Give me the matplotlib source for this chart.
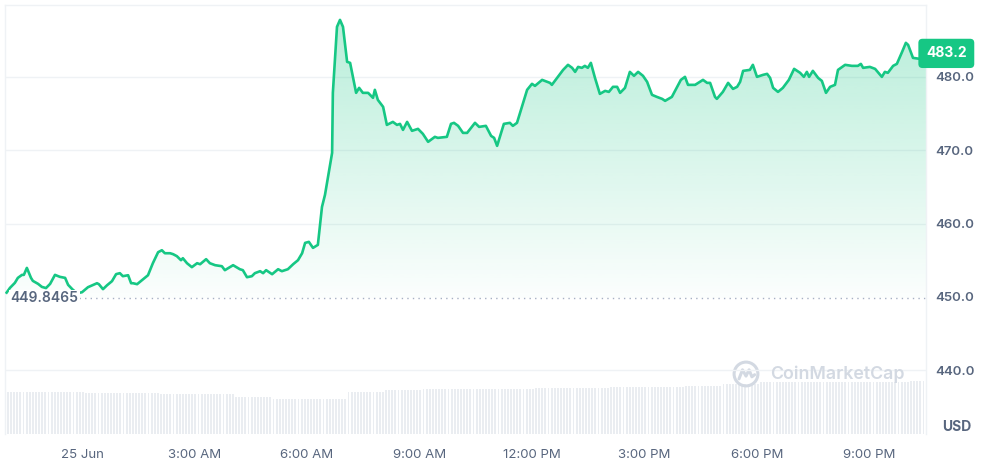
import numpy as np
import matplotlib.pyplot as plt
from matplotlib.patches import Polygon, Circle

plt.rcParams['font.family'] = ['Inter', 'DejaVu Sans']

# hours relative to 00:00 25 Jun
hours = [-2.01, -1.92, -1.79, -1.71, -1.60, -1.55, -1.47, -1.36, -1.31, -1.17, -1.07, -0.96,
         -0.85, -0.72, -0.59, -0.45, -0.37, -0.25, -0.13, 0.00, 0.16, 0.40, 0.45, 0.56, 0.67,
         0.80, 0.91, 1.01, 1.09, 1.23, 1.31, 1.36, 1.47, 1.60, 1.76, 1.89, 2.03, 2.13, 2.21,
         2.35, 2.43, 2.53, 2.64, 2.69, 2.80, 2.93, 3.07, 3.15, 3.31, 3.41, 3.55, 3.73, 3.81,
         4.03, 4.21, 4.29, 4.40, 4.53, 4.61, 4.75, 4.83, 4.91, 5.07, 5.23, 5.33, 5.49, 5.63,
         5.76, 5.87, 5.95, 6.05, 6.16, 6.29, 6.40, 6.48, 6.56, 6.67, 6.69, 6.80, 6.88, 6.96,
         7.07, 7.15, 7.31, 7.39, 7.49, 7.63, 7.76, 7.81, 7.89, 8.03, 8.13, 8.29, 8.40, 8.48,
         8.56, 8.67, 8.80, 8.96, 9.09, 9.23, 9.41, 9.49, 9.73, 9.84, 9.92, 10.03, 10.16, 10.27,
         10.48, 10.59, 10.77, 10.91, 10.99, 11.07, 11.25, 11.41, 11.49, 11.60, 11.73, 11.87,
         12.00, 12.08, 12.27, 12.48, 12.53, 12.69, 12.83, 12.96, 13.07, 13.15, 13.23, 13.33,
         13.41, 13.49, 13.57, 13.68, 13.81, 13.95, 14.05, 14.16, 14.27, 14.35, 14.48, 14.61,
         14.72, 14.83, 14.96, 15.07, 15.20, 15.33, 15.47, 15.55, 15.73, 15.87, 15.97, 16.08,
         16.16, 16.35, 16.48, 16.56, 16.67, 16.75, 16.88, 16.93, 17.09, 17.23, 17.36, 17.47,
         17.55, 17.63, 17.81, 17.89, 18.00, 18.16, 18.27, 18.35, 18.43, 18.56, 18.69, 18.85,
         18.99, 19.15, 19.25, 19.33, 19.39, 19.49, 19.63, 19.73, 19.84, 19.95, 20.08, 20.16,
         20.35, 20.53, 20.69, 20.77, 20.83, 21.01, 21.15, 21.33, 21.41, 21.49, 21.63, 21.73,
         21.87, 21.97, 22.03, 22.16, 22.35, 22.48, 22.51]
prices = [450.58, 451.23, 451.91, 452.59, 453.00, 453.00, 453.95, 452.59, 452.18, 451.77, 451.36, 451.20,
          451.77, 453.00, 452.73, 452.59, 451.64, 451.00, 450.50, 450.63, 451.32, 451.86, 451.73, 451.05, 451.59,
          452.14, 453.10, 453.23, 452.82, 452.95, 451.86, 451.86, 451.73, 452.27, 452.95, 454.59, 456.09, 456.36, 455.95,
          455.95, 455.82, 455.55, 455.00, 455.27, 454.59, 454.05, 454.59, 454.45, 455.14, 454.59, 454.32, 454.18, 453.64,
          454.32, 453.77, 453.64, 452.68, 452.82, 453.23, 453.50, 453.23, 453.64, 453.09, 453.77, 453.50, 453.77, 454.45,
          455.00, 455.95, 457.36, 457.50, 456.68, 457.09, 462.27, 463.91, 466.36, 469.64, 477.82, 486.82, 487.77, 486.82,
          482.05, 481.91, 477.82, 478.50, 477.82, 477.82, 477.14, 478.23, 476.86, 475.91, 473.45, 473.86, 473.45, 473.59,
          472.77, 473.86, 472.64, 472.91, 472.23, 471.14, 471.82, 471.68, 471.82, 473.59, 473.73, 473.32, 472.36, 472.36,
          473.73, 473.18, 473.32, 471.95, 471.68, 470.59, 473.59, 473.73, 473.32, 473.73, 475.91, 478.23,
          479.05, 478.77, 479.59, 479.18, 478.91, 480.00, 480.95, 481.64, 481.23, 480.68, 481.36, 481.23,
          481.50, 481.23, 481.91, 479.86, 477.68, 478.09, 477.95, 478.64, 478.64, 477.82, 478.50, 480.68,
          480.14, 480.68, 480.14, 479.32, 477.55, 477.27, 477.00, 476.73, 477.27, 478.64, 479.59, 480.00,
          478.91, 478.91, 479.32, 479.59, 479.18, 479.18, 477.27, 477.00, 477.95, 479.18, 478.36, 478.64,
          479.32, 480.82, 480.95, 481.64, 480.00, 480.27, 480.41, 479.86, 478.50, 477.95, 478.50, 479.59,
          481.09, 480.55, 480.00, 480.68, 480.00, 480.82, 479.86, 479.45, 477.82, 478.64, 478.91, 480.95,
          481.64, 481.50, 481.50, 481.77, 481.23, 481.36, 481.09, 480.00, 480.68, 480.55, 481.50, 481.77,
          483.41, 484.64, 484.36, 482.59, 482.45, 483.00, 483.20]

open_price = 449.8465
last_price = 483.2

# relative volume, one value per hour from -2h to 22h
vol_hourly = [4.2, 4.2, 4.1, 4.1, 4.0, 4.0, 3.7, 3.5, 3.5, 4.2, 4.4, 4.5, 4.5, 4.5,
              4.6, 4.6, 4.7, 4.7, 4.8, 5.0, 5.2, 5.2, 5.2, 5.2, 5.3]

tick_hours = [0, 3, 6, 9, 12, 15, 18, 21]
tick_labels = ["25 Jun", "3:00 AM", "6:00 AM", "9:00 AM", "12:00 PM", "3:00 PM", "6:00 PM", "9:00 PM"]
price_ticks = [440, 450, 460, 470, 480]

green = '#16c784'
grey_text = '#58667e'
grid_c = '#eff2f5'

W, H = 982, 462
fig = plt.figure(figsize=(W / 100, H / 100), dpi=100)
ax = fig.add_axes([5 / W, 1 - 434 / H, 921 / W, 429 / H])

x0, x1 = -2.053, 22.507
y0, y1 = 431.3, 489.8
ax.set_xlim(x0, x1)
ax.set_ylim(y0, y1)

# volume bars on a twin axis
axv = ax.twinx()
t_vol = np.arange(-2.0, 22.5, 1 / 12)
v_idx = np.floor(t_vol + 2.0).astype(int)
v_vals = np.array(vol_hourly)[v_idx]
axv.bar(t_vol, v_vals, width=0.05, color='#eaedf1', align='edge', zorder=1)
axv.set_ylim(0, 42.9)
axv.set_xlim(x0, x1)
axv.axis('off')
ax.set_zorder(axv.get_zorder() + 1)
ax.patch.set_visible(False)

# grid
for v in [440, 460, 470, 480]:
    ax.axhline(v, color=grid_c, lw=1, zorder=0)
ax.axhline(open_price, xmin=0.08, color='#a6b0c3', lw=1, ls=(0, (1, 3)), zorder=1)

# gradient fill under the line
t = np.array(hours)
p = np.array(prices)
poly = Polygon(np.column_stack([np.r_[t, t[-1], t[0]], np.r_[p, open_price, open_price]]),
               closed=True, facecolor='none', edgecolor='none')
ax.add_patch(poly)
n = 256
alpha = np.linspace(0.31, 0.015, n)[:, None]
rgba = np.zeros((n, 1, 4))
rgba[..., 0] = 22 / 255
rgba[..., 1] = 199 / 255
rgba[..., 2] = 132 / 255
rgba[..., 3] = alpha
img = ax.imshow(rgba, extent=[x0, x1, open_price, 488.5], aspect='auto', origin='upper',
                zorder=2, interpolation='bilinear')
img.set_clip_path(poly)

ax.plot(t, p, color=green, lw=1.9, zorder=3, solid_joinstyle='round')

# axes styling
for s in ['top', 'left', 'right']:
    ax.spines[s].set_color(grid_c)
    ax.spines[s].set_linewidth(1)
ax.spines['bottom'].set_visible(False)

ax.yaxis.tick_right()
ax.set_yticks(price_ticks)
ax.set_yticklabels([f"{v:.1f}" for v in price_ticks])
ax.tick_params(axis='y', length=0, pad=7, labelsize=9.5, labelcolor=grey_text)
for lbl in ax.get_yticklabels():
    lbl.set_fontweight('semibold')
ax.set_xticks(tick_hours)
ax.set_xticklabels(tick_labels)
ax.tick_params(axis='x', length=0, pad=11, labelsize=9.5, labelcolor=grey_text)

# price labels
ax.text(1.0, last_price, f"{last_price:.1f}", transform=ax.get_yaxis_transform(),
        ha='left', va='center', color='white', fontsize=10, fontweight='bold', zorder=10,
        bbox=dict(boxstyle='round,pad=0.55,rounding_size=0.3', fc=green, ec='none'))
ax.text(x0 + 0.14, open_price, f"{open_price}", ha='left', va='center', color=grey_text,
        fontsize=10, fontweight='semibold', zorder=10,
        bbox=dict(boxstyle='square,pad=0.1', fc='white', ec='none'))
fig.text(957 / W, 1 - 427 / H, "USD", ha='center', va='center', color=grey_text,
         fontsize=10, fontweight='bold')

# watermark
fig.text(770 / W, 1 - 374 / H, "CoinMarketCap", ha='left', va='center', color='#d3d9e2',
         fontsize=12.8, fontweight='semibold', zorder=5)
lax = fig.add_axes([732 / W, 1 - 388 / H, 28 / W, 28 / H])
lax.set_xlim(-1, 1)
lax.set_ylim(-1, 1)
lax.axis('off')
lax.add_patch(Circle((0, 0), 0.85, fill=False, ec='#d3d9e2', lw=2.2))
lax.plot([-0.5, -0.25, 0.0, 0.22, 0.42, 0.62], [-0.35, 0.3, -0.15, 0.3, -0.2, -0.05],
         color='#d3d9e2', lw=2.2, solid_capstyle='round', solid_joinstyle='round')

fig.savefig('out.png', dpi=100)
